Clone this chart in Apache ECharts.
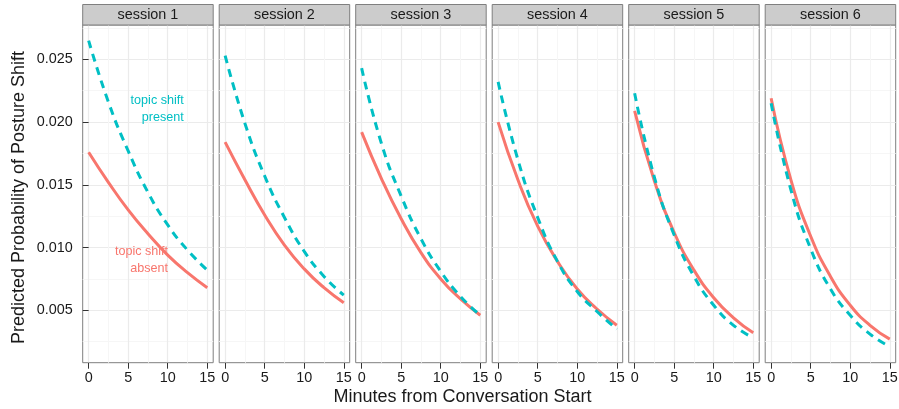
<!DOCTYPE html>
<html>
<head>
<meta charset="utf-8">
<title>Predicted Probability of Posture Shift</title>
<script src="https://cdn.jsdelivr.net/npm/echarts@6/dist/echarts.min.js"></script>
<style>
html, body { margin: 0; padding: 0; background: #fff; }
#container { width: 899px; height: 409px; }
</style>
</head>
<body>
<div id="container"></div>
<script>
// minutes from conversation start
var minutes = [0, 2.5, 5, 7.5, 10, 12.5, 15];
var sessions = ['session 1', 'session 2', 'session 3', 'session 4', 'session 5', 'session 6'];

// topic shift absent (red, solid) - one row per session
var absent = [
   [0.0176, 0.0152, 0.0130, 0.0111, 0.0094, 0.0080, 0.0068],
   [0.0184, 0.0154, 0.0126, 0.0102, 0.0083, 0.0068, 0.0056],
   [0.0192, 0.0155, 0.0123, 0.0096, 0.0075, 0.0059, 0.0046],
   [0.0200, 0.0154, 0.0117, 0.0089, 0.0067, 0.0051, 0.0038],
   [0.0209, 0.0153, 0.0112, 0.0082, 0.0060, 0.0044, 0.0032],
   [0.0219, 0.0154, 0.0109, 0.0077, 0.0054, 0.0038, 0.0027]
];

// topic shift present (teal, dashed)
var present = [
   [0.0265, 0.0216, 0.0177, 0.0144, 0.0118, 0.0098, 0.0082],
   [0.0253, 0.0199, 0.0157, 0.0124, 0.0097, 0.0077, 0.0062],
   [0.0243, 0.0183, 0.0141, 0.0107, 0.0081, 0.0061, 0.0046],
   [0.0232, 0.0170, 0.0124, 0.0089, 0.0065, 0.0049, 0.0035],
   [0.0223, 0.0156, 0.0110, 0.0077, 0.0054, 0.0038, 0.0028],
   [0.0215, 0.0146, 0.0099, 0.0067, 0.0046, 0.0031, 0.0021]
];

var xTicks = [0, 5, 10, 15];
var yTicks = [0.005, 0.010, 0.015, 0.020, 0.025];

// text labels in panel 1 (right edge x, middle y)
var labelText = ['topic shift\npresent', 'topic shift\nabsent'];
var labelX = [12.03, 10.05];
var labelY = [0.02105, 0.0090];

var colAbsent = '#F8766D';
var colPresent = '#00BFC4';
var font = 'Liberation Sans, Arial, sans-serif';

var dom = document.getElementById('container');
var myChart = echarts.init(dom, null, {
   renderer: 'canvas'
});

var panelLeft = 82.7, panelStep = 136.5, panelW = 130.5, panelTop = 25, panelH = 337.7;

function isTick(v, list) {
   return list.some(function (t) { return Math.abs(t - v) < 1e-9; });
}

var grids = [], xAxes = [], yAxes = [], series = [], graphics = [];

sessions.forEach(function (name, i) {
   var left = panelLeft + panelStep * i;

   grids.push({
      left: left, top: panelTop, width: panelW, height: panelH,
      show: true, backgroundColor: '#fff', borderColor: '#7F7F7F', borderWidth: 1,
      containLabel: false, outerBoundsMode: 'none'
   });

   xAxes.push({
      type: 'value', gridIndex: i, min: -0.75, max: 15.75,
      minInterval: 5, maxInterval: 5,
      axisLine: { show: false },
      axisTick: { show: true, length: 6, customValues: xTicks, lineStyle: { color: '#333', width: 1 } },
      axisLabel: {
         customValues: xTicks, margin: 8, fontSize: 14.4, color: '#1A1A1A', fontFamily: font,
         formatter: function (v) { return isTick(v, xTicks) ? String(v) : ''; }
      },
      splitLine: { show: true, lineStyle: { color: '#EBEBEB', width: 1.2 } },
      minorTick: { show: false, splitNumber: 2 },
      minorSplitLine: { show: true, lineStyle: { color: '#F6F6F6', width: 1 } }
   });

   yAxes.push({
      type: 'value', gridIndex: i, min: 0.00082, max: 0.02774,
      minInterval: 0.005, maxInterval: 0.005,
      axisLine: { show: false },
      axisTick: { show: i === 0, length: 6, customValues: yTicks, lineStyle: { color: '#333', width: 1 } },
      axisLabel: {
         show: i === 0, customValues: yTicks, margin: 10, fontSize: 14.4, color: '#1A1A1A', fontFamily: font,
         formatter: function (v) { return isTick(v, yTicks) ? v.toFixed(3) : ''; }
      },
      splitLine: { show: true, lineStyle: { color: '#EBEBEB', width: 1.2 } },
      minorTick: { show: false, splitNumber: 2 },
      minorSplitLine: { show: true, lineStyle: { color: '#F6F6F6', width: 1 } }
   });

   var absentSeries = {
      name: 'topic shift absent', type: 'line', xAxisIndex: i, yAxisIndex: i,
      data: minutes.map(function (m, k) { return [m, absent[i][k]]; }),
      symbol: 'none', showSymbol: false, smooth: 0.5,
      lineStyle: { color: colAbsent, width: 3 },
      itemStyle: { color: colAbsent },
      silent: true, z: 2
   };
   var presentSeries = {
      name: 'topic shift present', type: 'line', xAxisIndex: i, yAxisIndex: i,
      data: minutes.map(function (m, k) { return [m, present[i][k]]; }),
      symbol: 'none', showSymbol: false, smooth: 0.5,
      lineStyle: { color: colPresent, width: 3, type: [8, 6], cap: 'butt' },
      itemStyle: { color: colPresent },
      silent: true, z: 3
   };

   if (i === 0) {
      // labels sit in panel 1 only
      [presentSeries, absentSeries].forEach(function (s, j) {
         s.markPoint = {
            symbol: 'circle', symbolSize: 0, silent: true,
            label: {
               show: true, position: 'inside', align: 'right', verticalAlign: 'middle',
               color: j === 0 ? colPresent : colAbsent,
               fontSize: 12.6, lineHeight: 17.7, fontFamily: font,
               formatter: function (p) { return p.name; }
            },
            data: [{ name: labelText[j], coord: [labelX[j], labelY[j]] }]
         };
      });
   }

   series.push(absentSeries, presentSeries);

   // facet strip
   graphics.push({
      type: 'rect', silent: true, z: 10,
      shape: { x: left, y: 4.5, width: panelW, height: 20.5 },
      style: { fill: '#CCCCCC', stroke: '#7F7F7F', lineWidth: 1 }
   });
   graphics.push({
      type: 'text', silent: true, z: 11,
      x: left + panelW / 2, y: 15,
      style: {
         text: name, fontSize: 14.4, fontFamily: font, fill: '#1A1A1A',
         align: 'center', verticalAlign: 'middle', textAlign: 'center', textVerticalAlign: 'middle'
      }
   });
});

// axis titles
graphics.push({
   type: 'text', silent: true, x: 462.5, y: 397,
   style: {
      text: 'Minutes from Conversation Start', fontSize: 18, fontFamily: font, fill: '#1A1A1A',
      align: 'center', verticalAlign: 'middle', textAlign: 'center', textVerticalAlign: 'middle'
   }
});
graphics.push({
   type: 'text', silent: true, x: 19.5, y: 197.5, rotation: Math.PI / 2,
   style: {
      text: 'Predicted Probability of Posture Shift', fontSize: 18, fontFamily: font, fill: '#1A1A1A',
      align: 'center', verticalAlign: 'middle', textAlign: 'center', textVerticalAlign: 'middle'
   }
});

var option = {
   animation: false,
   backgroundColor: '#fff',
   grid: grids,
   xAxis: xAxes,
   yAxis: yAxes,
   series: series,
   graphic: graphics
};

myChart.setOption(option);

window.addEventListener('resize', myChart.resize);
</script>
</body>
</html>
